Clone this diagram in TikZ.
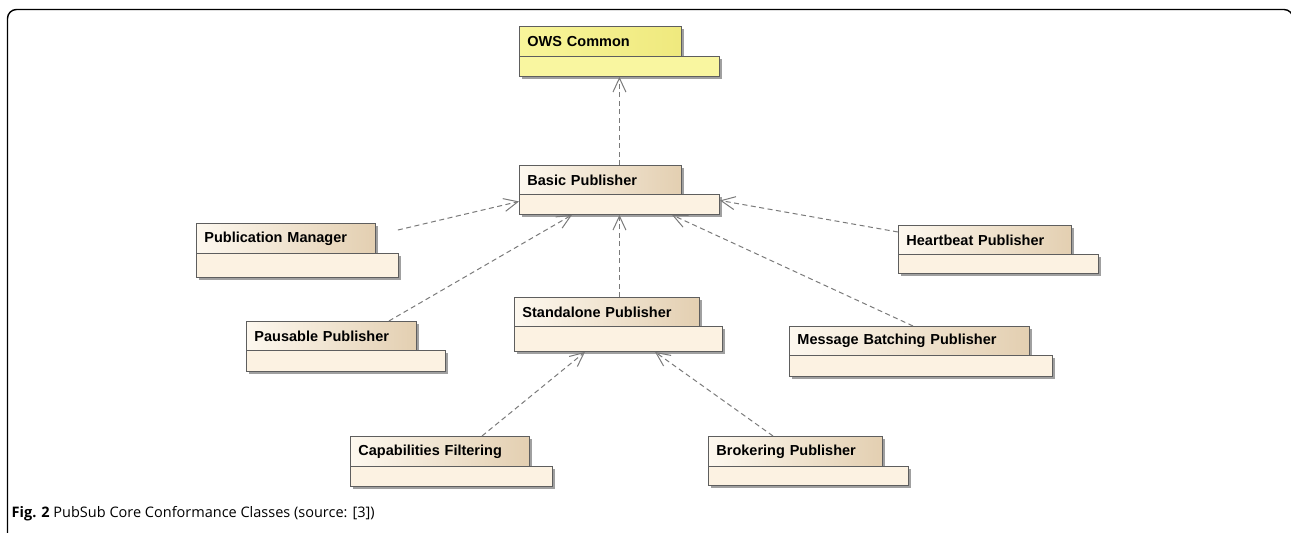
\documentclass[tikz,border=0pt]{standalone}
\usepackage{fontspec}
\setmainfont{Liberation Sans}
\newfontfamily\capfont{Open Sans}
\usetikzlibrary{arrows.meta,calc,shadows}

\definecolor{tabL}{HTML}{FDF8EF}
\definecolor{tabR}{HTML}{E3CFB1}
\definecolor{bodyfill}{HTML}{FCF2E2}
\definecolor{ylwL}{HTML}{F8F59A}
\definecolor{ylwR}{HTML}{EFE97E}
\definecolor{ylwbody}{HTML}{F9F6A0}
\definecolor{pkgedge}{HTML}{5E5E5E}
\definecolor{pkgshadow}{HTML}{A0A0A0}
\definecolor{depline}{HTML}{7A7A7A}

% package symbol: tab with the name, body underneath
% #1 name, #2 left x, #3 top y, #4 tab right x, #5 body top y,
% #6 body right x, #7 bottom y, #8 label, #9 colour scheme (plain/common)
\newcommand\pkgnode[9]{%
  \pgfmathsetmacro\pkgtw{#4-#2-16}%
  \pgfmathsetmacro\pkgth{#5-#3}%
  \pgfmathsetmacro\pkgbw{#6-#2}%
  \pgfmathsetmacro\pkgbh{#7-#5}%
  \node[tabbox,#9 tab,text width=\pkgtw pt,minimum height=\pkgth pt] (#1) at (#2,#3) {#8};
  \node[bodybox,#9 body,minimum width=\pkgbw pt,minimum height=\pkgbh pt] (#1-b) at (#2,#5) {};
}

\begin{document}
\begin{tikzpicture}[x=1pt,y=-1pt,
  pkgshade/.style={general shadow={fill=pkgshadow,shadow xshift=3pt,shadow yshift=-3pt}},
  tabbox/.style={draw=pkgedge,line width=0.9pt,anchor=north west,inner xsep=8pt,inner ysep=0pt,
    align=left,font=\bfseries\fontsize{14.5}{16}\selectfont,pkgshade},
  bodybox/.style={draw=pkgedge,line width=0.9pt,anchor=north west,inner sep=0pt,pkgshade},
  plain tab/.style={left color=tabL,right color=tabR},
  plain body/.style={fill=bodyfill},
  common tab/.style={left color=ylwL,right color=ylwR},
  common body/.style={fill=ylwbody},
  dep/.style={draw=depline,line width=1pt,dash pattern=on 5pt off 3.5pt,
    -{Straight Barb[length=14pt,width=13pt,line width=1pt]}},
]
\useasboundingbox (0,0) rectangle (1291,533);

% figure frame, open at the bottom
\begin{scope}
  \clip (0,0) rectangle (1291,533);
  \draw[line width=1.4pt,rounded corners=9pt] (7.5,560) -- (7.5,9.5) -- (1293,9.5) -- (1293,560);
\end{scope}

% packages
\pkgnode{ows}{519}{26}{681}{56}{719}{76}{OWS Common}{common}
\pkgnode{bp}{519}{165}{681}{194}{719}{214}{Basic Publisher}{plain}
\pkgnode{pm}{196}{223}{375}{253}{398}{277}{Publication Manager}{plain}
\pkgnode{hb}{898}{225}{1071}{254}{1098}{273}{Heartbeat Publisher}{plain}
\pkgnode{pp}{246}{321}{416}{350}{445}{371}{Pausable Publisher}{plain}
\pkgnode{sp}{514}{297}{699}{326}{722}{351}{Standalone Publisher}{plain}
\pkgnode{mb}{789}{326}{1029}{355}{1052}{376}{Message Batching Publisher}{plain}
\pkgnode{cf}{350}{436}{529}{466}{552}{486}{Capabilities Filtering}{plain}
\pkgnode{br}{708}{436}{882}{466}{908}{485}{Brokering Publisher}{plain}

% dependencies
\draw[dep] (bp.north -| ows-b.south) -- (ows-b.south);
\draw[dep] ($(pm.north east)+(22,7)$) -- ($(bp-b.west)+(0,-3)$);
\draw[dep] ($(hb.north west)+(0,7)$) -- ($(bp-b.east)+(0,-4)$);
\draw[dep] ($(pp.north east)+(-28,0)$) -- ($(bp-b.south west)+(53,0)$);
\draw[dep] (sp.north -| bp-b.south) -- (bp-b.south);
\draw[dep] ($(mb.north west)+(124,0)$) -- ($(bp-b.south west)+(153,0)$);
\draw[dep] ($(cf.north west)+(132,0)$) -- ($(sp-b.south west)+(71,0)$);
\draw[dep] ($(br.north west)+(65,0)$) -- ($(sp-b.south west)+(141,0)$);

% caption
\node[anchor=base west,inner sep=0pt,font=\capfont\fontsize{14.5}{18}\selectfont] (caption) at (11.5,517)
  {\textbf{Fig. 2} PubSub Core Conformance Classes (source: [3])};
\end{tikzpicture}
\end{document}
